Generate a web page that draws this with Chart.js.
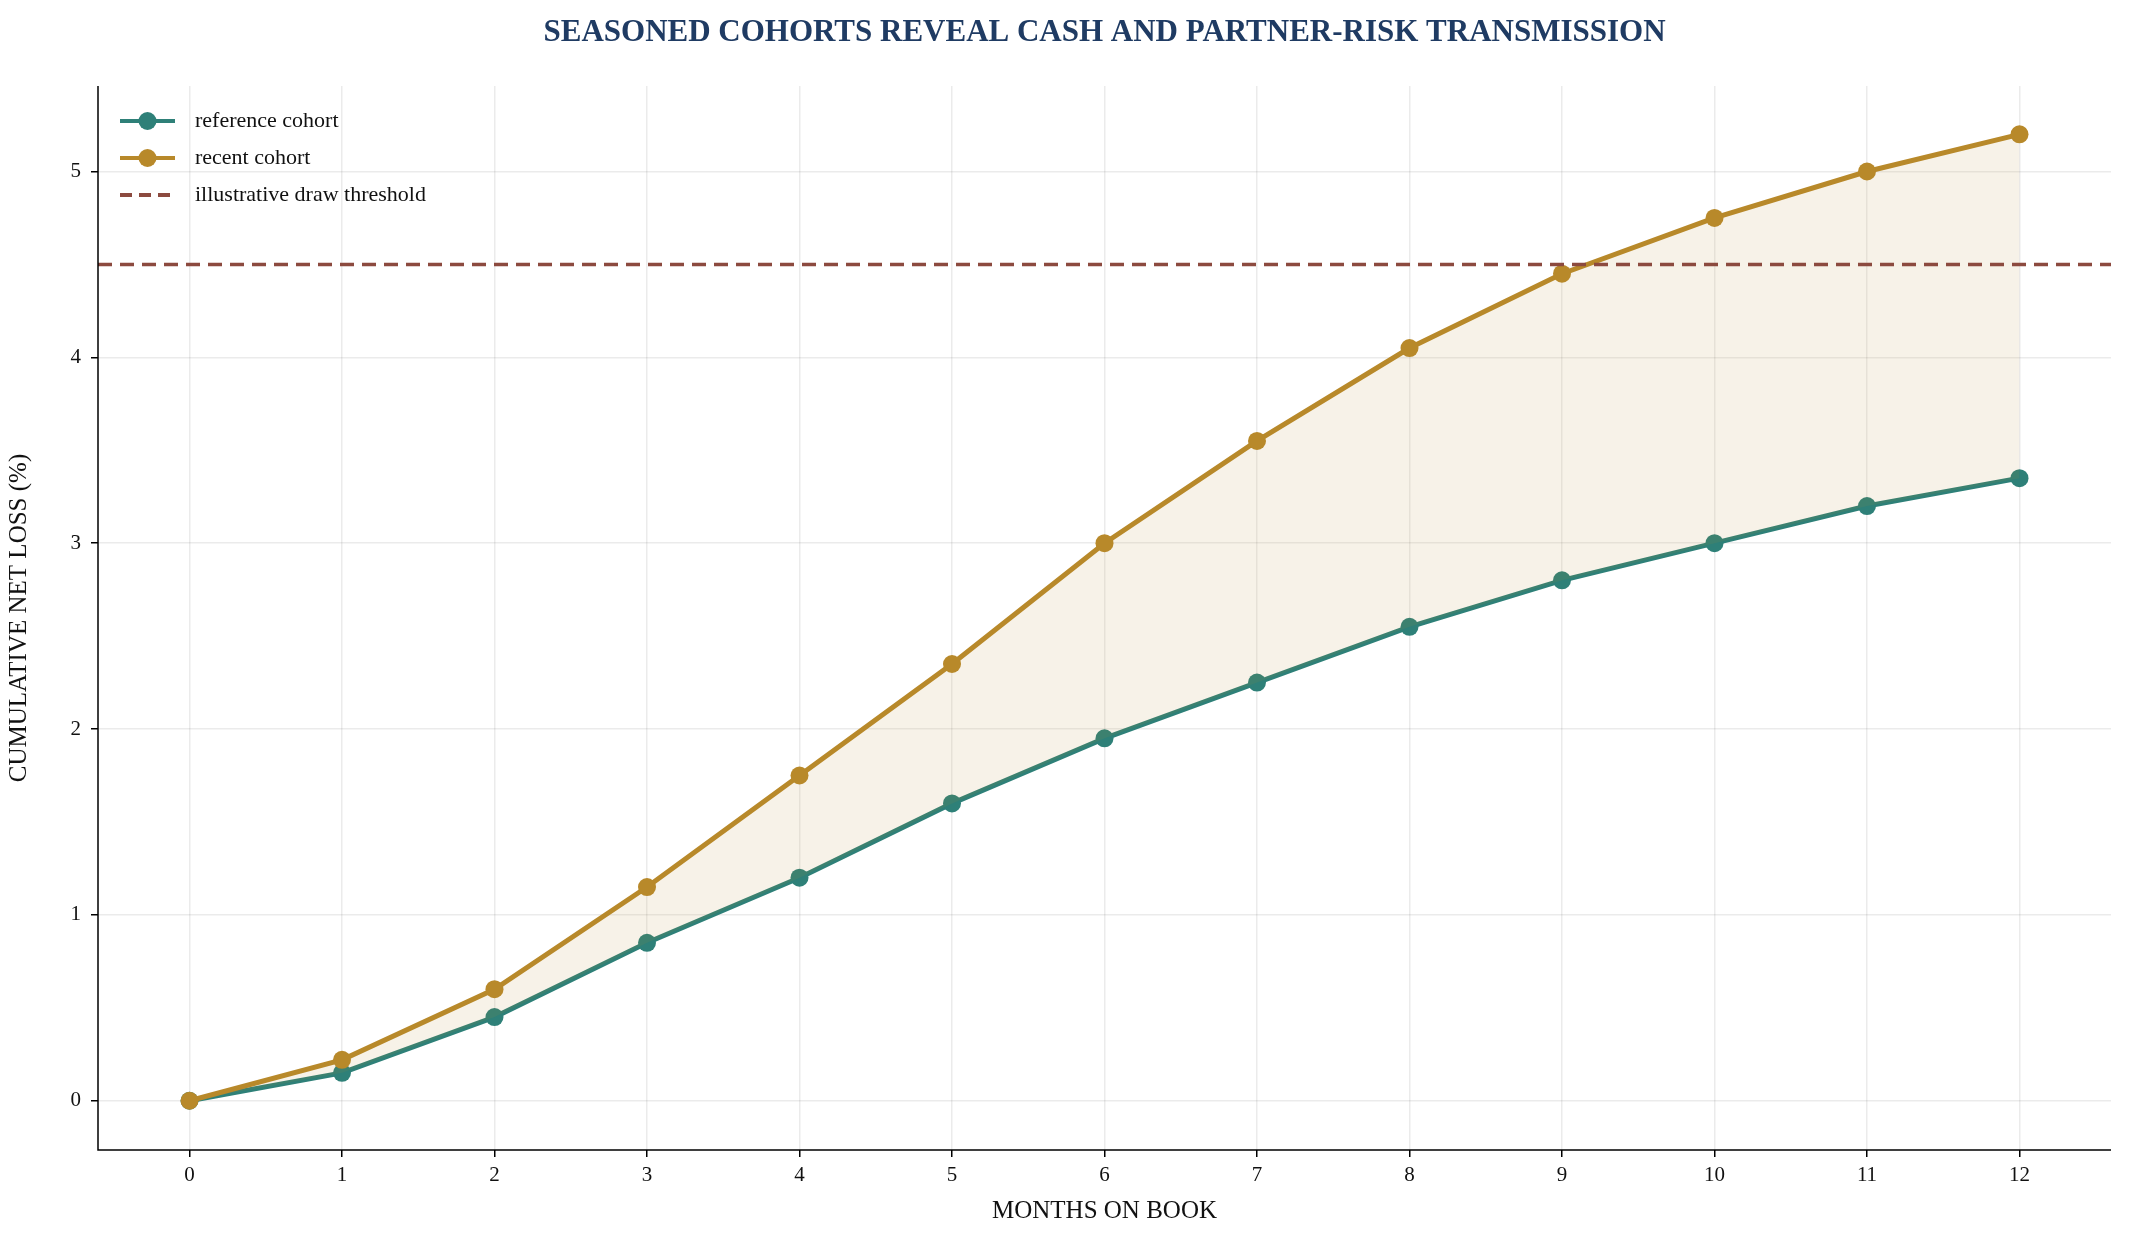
<!DOCTYPE html>
<html>
<head>
<meta charset="utf-8">
<script src="https://cdn.jsdelivr.net/npm/chart.js@4.4.0/dist/chart.umd.min.js"></script>
<style>
  html, body { margin: 0; padding: 0; background: #fff; }
  #wrap { width: 2131px; height: 1252px; }
</style>
</head>
<body>
<div id="wrap"><canvas id="c" width="2131" height="1252"></canvas></div>
<script>
// Data
const months = [ 0, 1, 2, 3, 4, 5, 6, 7, 8, 9, 10, 11, 12 ];
const referenceCohort = [ 0, 0.15, 0.45, 0.85, 1.2, 1.6, 1.95, 2.25, 2.55, 2.8, 3.0, 3.2, 3.35 ];
const recentCohort = [ 0, 0.22, 0.6, 1.15, 1.75, 2.35, 3.0, 3.55, 4.05, 4.45, 4.75, 5.0, 5.2 ];
const drawThreshold = 4.5;
const yTicks = [ 0, 1, 2, 3, 4, 5 ];

const TEAL = '#2e8078';
const GOLD = '#b8892a';
const RED = '#8c4a3f';
const FONT = '"Liberation Serif", "DejaVu Serif", serif';

const toPoints = ( ys ) => months.map( ( m, i ) => ( { x: m, y: ys[ i ] } ) );

// Title, spines and in-plot legend
const decor = {
    id: 'decor',
    afterDraw ( chart )
    {
        const ctx = chart.ctx;
        const a = chart.chartArea;
        ctx.save();
        ctx.fillStyle = '#1f3b63';
        ctx.font = 'bold 31px ' + FONT;
        ctx.textAlign = 'center';
        ctx.textBaseline = 'middle';
        ctx.fillText( 'SEASONED COHORTS REVEAL CASH AND PARTNER-RISK TRANSMISSION', ( a.left + a.right ) / 2, 33 );

        ctx.strokeStyle = '#000';
        ctx.lineWidth = 1.5;
        ctx.beginPath();
        ctx.moveTo( a.left, a.top );
        ctx.lineTo( a.left, a.bottom );
        ctx.lineTo( a.right, a.bottom );
        ctx.stroke();

        const items = [
            { label: 'reference cohort', color: TEAL, marker: true },
            { label: 'recent cohort', color: GOLD, marker: true },
            { label: 'illustrative draw threshold', color: RED, marker: false }
        ];
        ctx.font = '22px ' + FONT;
        ctx.textAlign = 'left';
        items.forEach( ( it, i ) =>
        {
            const y = 121 + i * 37;
            const x0 = 120, x1 = 175;
            ctx.strokeStyle = it.color;
            ctx.lineWidth = 4;
            ctx.setLineDash( it.marker ? [] : [ 12, 7 ] );
            ctx.beginPath();
            ctx.moveTo( x0, y );
            ctx.lineTo( x1, y );
            ctx.stroke();
            ctx.setLineDash( [] );
            if ( it.marker )
            {
                ctx.fillStyle = it.color;
                ctx.beginPath();
                ctx.arc( ( x0 + x1 ) / 2, y, 9, 0, Math.PI * 2 );
                ctx.fill();
            }
            ctx.fillStyle = '#111';
            ctx.fillText( it.label, 195, y );
        } );
        ctx.restore();
    }
};

new Chart( document.getElementById( 'c' ), {
    type: 'line',
    data: {
        datasets: [
            {
                label: 'reference cohort',
                data: toPoints( referenceCohort ),
                borderColor: TEAL,
                backgroundColor: TEAL,
                borderWidth: 5,
                pointRadius: 9,
                pointBackgroundColor: TEAL,
                pointBorderWidth: 0,
                fill: false,
                order: 2
            },
            {
                label: 'recent cohort',
                data: toPoints( recentCohort ),
                borderColor: GOLD,
                backgroundColor: GOLD,
                borderWidth: 5,
                pointRadius: 9,
                pointBackgroundColor: GOLD,
                pointBorderWidth: 0,
                fill: { target: 0, above: 'rgba(184,137,42,0.11)', below: 'rgba(184,137,42,0.11)' },
                order: 1
            },
            {
                label: 'illustrative draw threshold',
                data: [ { x: -0.6, y: drawThreshold }, { x: 12.6, y: drawThreshold } ],
                borderColor: RED,
                borderWidth: 3.5,
                borderDash: [ 14, 8 ],
                pointRadius: 0,
                fill: false,
                order: 0
            }
        ]
    },
    options: {
        responsive: false,
        animation: false,
        layout: { padding: { top: 86, right: 20, left: 0, bottom: 22 } },
        plugins: { legend: { display: false }, title: { display: false }, tooltip: { enabled: false } },
        scales: {
            x: {
                type: 'linear',
                min: -0.6,
                max: 12.6,
                afterBuildTicks: ( s ) => { s.ticks = months.map( v => ( { value: v } ) ); },
                afterFit: ( s ) => { s.height = 80; },
                grid: { color: 'rgba(0,0,0,0.08)', lineWidth: 1.5, drawTicks: true, tickColor: '#000', tickLength: 7 },
                border: { display: false },
                ticks: { color: '#111', font: { family: FONT, size: 21 }, padding: 6, maxRotation: 0 },
                title: { display: true, text: 'MONTHS ON BOOK', color: '#111', font: { family: FONT, size: 25 }, padding: { top: 0 } }
            },
            y: {
                min: -0.265,
                max: 5.46,
                afterBuildTicks: ( s ) => { s.ticks = yTicks.map( v => ( { value: v } ) ); },
                afterFit: ( s ) => { s.width = 98; },
                grid: { color: 'rgba(0,0,0,0.08)', lineWidth: 1.5, drawTicks: true, tickColor: '#000', tickLength: 7 },
                border: { display: false },
                ticks: { color: '#111', font: { family: FONT, size: 21 }, padding: 10 },
                title: { display: true, text: 'CUMULATIVE NET LOSS (%)', color: '#111', font: { family: FONT, size: 25 }, padding: { bottom: 12 } }
            }
        }
    },
    plugins: [ decor ]
} );
</script>
</body>
</html>
